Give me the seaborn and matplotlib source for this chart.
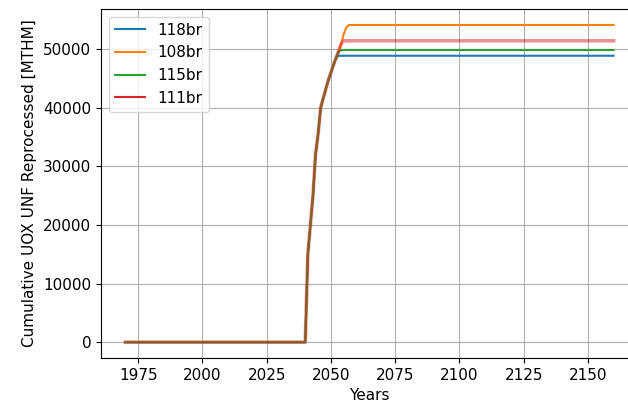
import matplotlib
matplotlib.use("Agg")
import matplotlib.pyplot as plt
import pandas as pd
import seaborn as sns

# Breakpoints of the cumulative reprocessed UOX UNF curves (years, MTHM)
years = [1970, 2040, 2041, 2042, 2043, 2044, 2045, 2046, 2047, 2048,
         2049, 2050, 2051, 2052, 2053, 2054, 2055, 2056, 2057, 2160]

rise = [0, 0, 15000, 20000, 25000, 32000, 35500, 40000, 41600, 43200,
        44700, 46000, 47300, 48500]

uox_118br = rise + [48850, 48850, 48850, 48850, 48850, 48850]
uox_108br = rise + [49700, 50900, 52600, 53700, 54100, 54100]
uox_115br = rise + [49500, 49830, 49830, 49830, 49830, 49830]
uox_111br = rise + [49700, 50900, 51400, 51400, 51400, 51400]

series_names = ["118br", "108br", "115br", "111br"]
series_values = [uox_118br, uox_108br, uox_115br, uox_111br]
series_colors = ["#1f77b4", "#ff7f0e", "#2ca02c", "#d62728"]

frames = []
for name, vals in zip(series_names, series_values):
    frames.append(pd.DataFrame({"Years": years, "UNF": vals, "scenario": name}))
df = pd.concat(frames, ignore_index=True)

plt.rcParams["font.family"] = ["DejaVu Sans"]
plt.rcParams["font.size"] = 11

fig = plt.figure(figsize=(6.28, 4.09), dpi=100)
ax = fig.add_axes([101 / 628, 1 - 358 / 409, 537 / 628, 349 / 409])

sns.lineplot(data=df, x="Years", y="UNF", hue="scenario",
             hue_order=series_names, palette=series_colors,
             linewidth=1.5, ax=ax, legend=False)

# the 111br run is drawn as a softer, wider trace
ax.lines[3].set_alpha(0.5)
ax.lines[3].set_linewidth(2.6)

handles = [plt.Line2D([], [], color=c, linewidth=1.5) for c in series_colors]
ax.legend(handles, series_names, loc="upper left", fontsize=11)

ax.set_xlim(1960.5, 2169.5)
ax.set_ylim(-2705, 56825)
ax.set_xticks([1975, 2000, 2025, 2050, 2075, 2100, 2125, 2150])
ax.set_yticks([0, 10000, 20000, 30000, 40000, 50000])
ax.grid(True, color="#b0b0b0", linewidth=0.8)
ax.set_axisbelow(True)
ax.set_xlabel("Years", fontsize=11)
ax.set_ylabel("Cumulative UOX UNF Reprocessed [MTHM]", fontsize=11)

fig.savefig("out.png", dpi=100)
